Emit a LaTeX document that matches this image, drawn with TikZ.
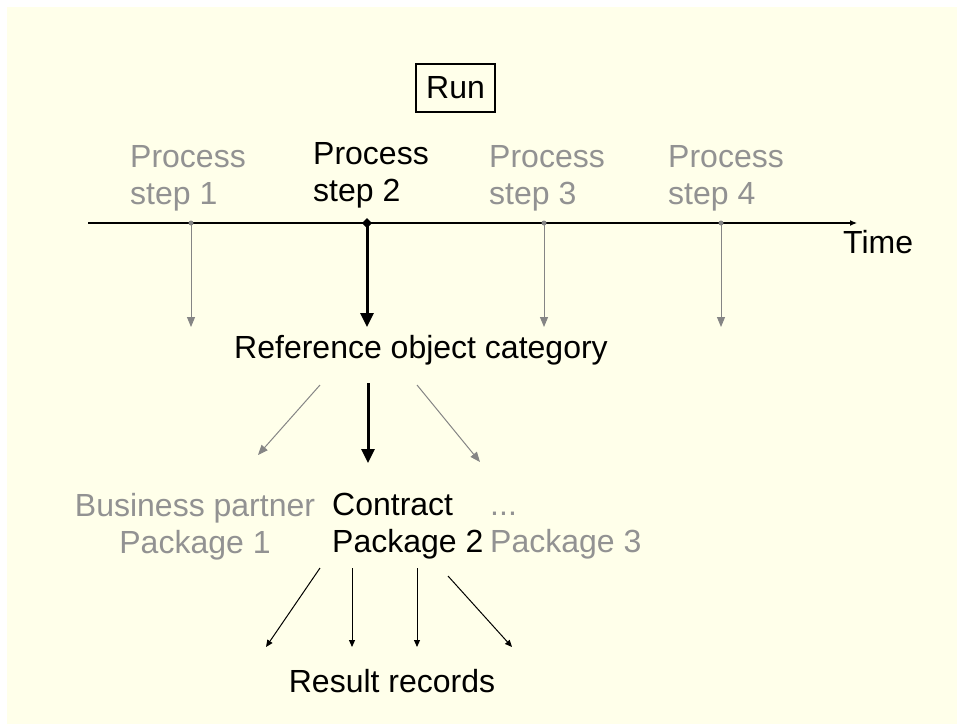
\documentclass[tikz,border=0pt]{standalone}
\usepackage{fontspec}
\setmainfont{Liberation Sans}
\usepackage{xcolor}
\definecolor{paper}{HTML}{FFFFEA}
\definecolor{faded}{HTML}{929292}
\definecolor{fadedline}{HTML}{858585}
\usepackage{tikz}
\usetikzlibrary{arrows.meta, positioning, calc}

\begin{document}
\begin{tikzpicture}[x=1pt, y=-1pt, >=Triangle,
  every node/.style={inner sep=0pt, font=\fontsize{32}{37}\selectfont},
  steptext/.style={anchor=north west, align=left},
  thinarrow/.style={line width=1pt, -{Triangle[length=10pt,width=8pt]}},
  boldarrow/.style={line width=3pt, -{Triangle[length=14pt,width=13pt]}},
  resarrow/.style={line width=1pt, -{Triangle[length=7pt,width=6pt]}}]

  \useasboundingbox (0,0) rectangle (957,724);
  \fill[paper] (7,7) rectangle (957,724);

  % run box
  \node[draw, line width=1.2pt, minimum width=79pt, minimum height=48pt]
    (run) at (455.5,88) {Run};

  % process steps above the time axis
  \node[steptext, text=faded] (step1) at (130,145) {Process\\step 1};
  \node[steptext] (step2) at (313,142) {Process\\step 2};
  \node[steptext, text=faded] (step3) at (489,145) {Process\\step 3};
  \node[steptext, text=faded] (step4) at (668,145) {Process\\step 4};

  % time axis
  \coordinate (tstart) at (88,223);
  \coordinate (tend) at (857,223);
  \draw[line width=1.2pt, -{Latex[length=7pt,width=6pt]}] (tstart) -- (tend);
  \node[anchor=base west] (time) at (843,253) {Time};

  \foreach \i/\x in {1/191, 3/544, 4/721} {
    \coordinate (t\i) at (\x,223);
    \coordinate (e\i) at (\x,327);
    \draw[fadedline, thinarrow] (t\i) -- (e\i);
    \fill[fadedline] (t\i) circle (2.5pt);
  }
  \coordinate (t2) at (367,223);
  \coordinate (e2) at (367,327);
  \draw[boldarrow] (t2) -- (e2);
  \fill (t2) ++(0,-5) -- ++(5,5) -- ++(-5,5) -- ++(-5,-5) -- cycle;

  % reference object category
  \node[anchor=base] (refcat) at (421,358) {Reference object category};

  \coordinate (r1) at (320,385);
  \coordinate (r2) at (368,383);
  \coordinate (r3) at (417,385);
  \coordinate (p1) at (258,455);
  \coordinate (p2) at (368,463);
  \coordinate (p3) at (480,462);
  \draw[fadedline, thinarrow] (r1) -- (p1);
  \draw[boldarrow] (r2) -- (p2);
  \draw[fadedline, thinarrow] (r3) -- (p3);

  % packages
  \node[anchor=north, align=center, text=faded] (pkg1) at (195,493)
    {Business partner\\Package 1};
  \node[steptext] (pkg2) at (332,493) {Contract\\Package 2};
  \node[steptext, text=faded] (pkg3) at (490,493) {\vphantom{P}...\\Package 3};

  % result records
  \coordinate (c1) at (320,568);
  \coordinate (c2) at (352,568);
  \coordinate (c3) at (417,568);
  \coordinate (c4) at (448,576);
  \coordinate (d1) at (266,647);
  \coordinate (d2) at (352,647);
  \coordinate (d3) at (417,647);
  \coordinate (d4) at (512,647);
  \foreach \j in {1,...,4}
    \draw[resarrow] (c\j) -- (d\j);

  \node[anchor=base] (result) at (392,692) {Result records};

\end{tikzpicture}
\end{document}
